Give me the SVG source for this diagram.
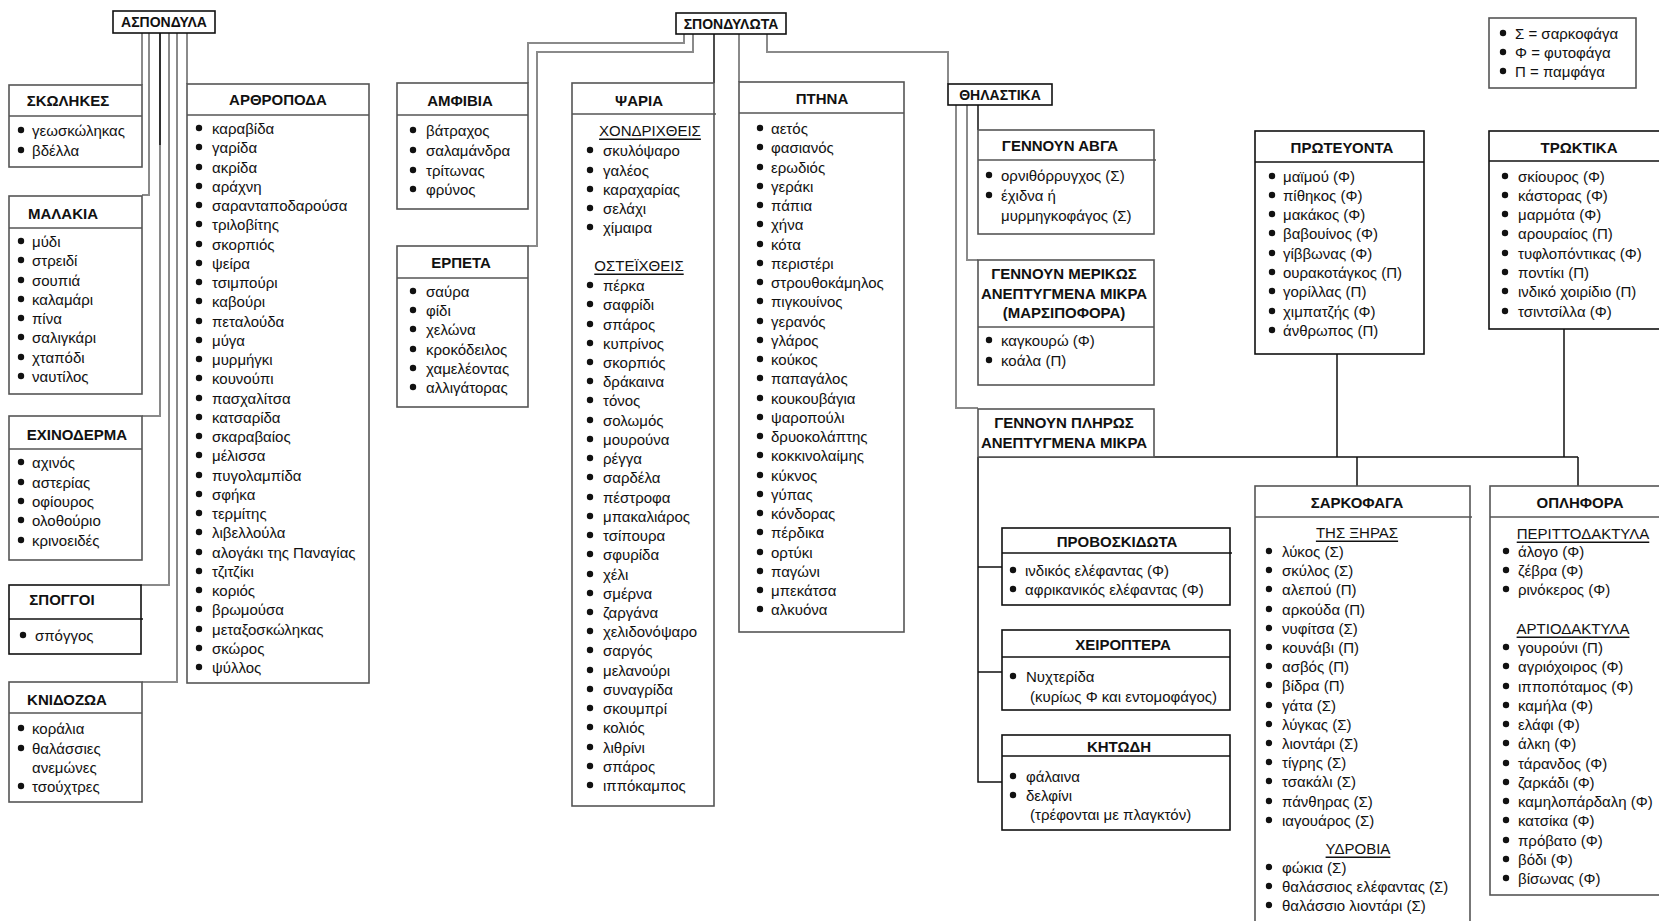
<svg xmlns="http://www.w3.org/2000/svg" xmlns:xlink="http://www.w3.org/1999/xlink" width="1659" height="921" viewBox="0 0 1659 921">
<style>
.box{fill:#fff;stroke:#555;stroke-width:1.6}
.kb{fill:#fff;stroke:#111;stroke-width:1.6}
.dv{stroke:#555;stroke-width:1.6}
.t{font-family:"Liberation Sans",Arial,sans-serif;font-size:15px;fill:#111;dominant-baseline:central}
.h{font-weight:bold;text-anchor:middle}
.s{font-size:14px}
.u{text-decoration:underline;text-anchor:middle}
.c{fill:none;stroke:#8a8a8a;stroke-width:2}
.k{fill:none;stroke:#111;stroke-width:1.5}
</style>
<defs><circle id="b" r="3.2" fill="#111"/></defs>
<rect width="1659" height="921" fill="#fff"/>

<g id="connectors">
<path class="c" d="M142,33V85 M149,33V195H142 M160,33V416H142 M169,33V585H141 M177,33V682H142 M187,33V84"/>
<path class="k" d="M160,33V145"/>
<path class="c" d="M684,34V43H528V83 M693,34V52H537V246H528 M739,34V82 M767,34V52H948V84"/>
<path class="k" d="M714,34V83"/>
<path class="c" d="M956,105V408H978 M967,105V260H978"/>
<path class="k" d="M978,105V130"/>
<path class="k" d="M978,457V782H1002 M978,567H1002 M978,672H1002 M978,457H1578 M1337,354V457 M1564,329V457 M1357,457V486 M1578,457V486"/>
</g>

<g id="aspondyla"><rect class="kb" x="113" y="11" width="102" height="22"/><text class="t h s" x="164" y="22">ΑΣΠΟΝΔΥΛΑ</text></g>

<g id="skolikes"><rect class="box" x="9" y="85" width="133" height="82"/><line class="dv" x1="9" y1="116" x2="142" y2="116"/>
<text class="t h" x="68" y="100">ΣΚΩΛΗΚΕΣ</text>
<use href="#b" x="21" y="130"/><use href="#b" x="21" y="150"/>
<text class="t"><tspan x="32" y="130">γεωσκώληκας</tspan><tspan x="32" y="150">βδέλλα</tspan></text></g>

<g id="malakia"><rect class="box" x="9" y="196" width="133" height="198"/><line class="dv" x1="9" y1="228" x2="142" y2="228"/>
<text class="t h" x="63" y="213">ΜΑΛΑΚΙΑ</text>
<use href="#b" x="21" y="241"/><use href="#b" x="21" y="260"/><use href="#b" x="21" y="280"/><use href="#b" x="21" y="299"/><use href="#b" x="21" y="318"/><use href="#b" x="21" y="337"/><use href="#b" x="21" y="357"/><use href="#b" x="21" y="376"/>
<text class="t"><tspan x="32" y="241">μύδι</tspan><tspan x="32" y="260">στρειδί</tspan><tspan x="32" y="280">σουπιά</tspan><tspan x="32" y="299">καλαμάρι</tspan><tspan x="32" y="318">πίνα</tspan><tspan x="32" y="337">σαλιγκάρι</tspan><tspan x="32" y="357">χταπόδι</tspan><tspan x="32" y="376">ναυτίλος</tspan></text></g>

<g id="echinoderma"><rect class="box" x="9" y="416" width="133" height="144"/><line class="dv" x1="9" y1="449" x2="142" y2="449"/>
<text class="t h" x="77" y="434">ΕΧΙΝΟΔΕΡΜΑ</text>
<use href="#b" x="21" y="462"/><use href="#b" x="21" y="482"/><use href="#b" x="21" y="501"/><use href="#b" x="21" y="520"/><use href="#b" x="21" y="540"/>
<text class="t"><tspan x="32" y="462">αχινός</tspan><tspan x="32" y="482">αστερίας</tspan><tspan x="32" y="501">οφίουρος</tspan><tspan x="32" y="520">ολοθούριο</tspan><tspan x="32" y="540">κρινοειδές</tspan></text></g>

<g id="spoggoi"><rect class="kb" x="9" y="585" width="132" height="69"/><line stroke="#111" stroke-width="1.6" x1="9" y1="619" x2="143" y2="619"/>
<text class="t h" x="62" y="599">ΣΠΟΓΓΟΙ</text>
<use href="#b" x="23" y="635"/>
<text class="t" x="35" y="635">σπόγγος</text></g>

<g id="knidozoa"><rect class="box" x="9" y="682" width="133" height="120"/><line class="dv" x1="9" y1="713" x2="142" y2="713"/>
<text class="t h" x="67" y="699">ΚΝΙΔΟΖΩΑ</text>
<use href="#b" x="21" y="728"/><use href="#b" x="21" y="748"/><use href="#b" x="21" y="786"/>
<text class="t"><tspan x="32" y="728">κοράλια</tspan><tspan x="32" y="748">θαλάσσιες</tspan><tspan x="32" y="767">ανεμώνες</tspan><tspan x="32" y="786">τσούχτρες</tspan></text></g>

<g id="arthropoda"><rect class="box" x="187" y="84" width="182" height="599"/><line class="dv" x1="187" y1="115" x2="369" y2="115"/>
<text class="t h" x="278" y="99">ΑΡΘΡΟΠΟΔΑ</text>
<g>
<use href="#b" x="199" y="128"/><use href="#b" x="199" y="147"/><use href="#b" x="199" y="167"/><use href="#b" x="199" y="186"/><use href="#b" x="199" y="205"/><use href="#b" x="199" y="224"/><use href="#b" x="199" y="244"/><use href="#b" x="199" y="263"/><use href="#b" x="199" y="282"/><use href="#b" x="199" y="301"/><use href="#b" x="199" y="321"/><use href="#b" x="199" y="340"/><use href="#b" x="199" y="359"/><use href="#b" x="199" y="378"/><use href="#b" x="199" y="398"/><use href="#b" x="199" y="417"/><use href="#b" x="199" y="436"/><use href="#b" x="199" y="455"/><use href="#b" x="199" y="475"/><use href="#b" x="199" y="494"/><use href="#b" x="199" y="513"/><use href="#b" x="199" y="532"/><use href="#b" x="199" y="552"/><use href="#b" x="199" y="571"/><use href="#b" x="199" y="590"/><use href="#b" x="199" y="609"/><use href="#b" x="199" y="629"/><use href="#b" x="199" y="648"/><use href="#b" x="199" y="667"/>
</g>
<text class="t"><tspan x="212" y="128">καραβίδα</tspan><tspan x="212" y="147">γαρίδα</tspan><tspan x="212" y="167">ακρίδα</tspan><tspan x="212" y="186">αράχνη</tspan><tspan x="212" y="205">σαρανταποδαρούσα</tspan><tspan x="212" y="224">τριλοβίτης</tspan><tspan x="212" y="244">σκορπιός</tspan><tspan x="212" y="263">ψείρα</tspan><tspan x="212" y="282">τσιμπούρι</tspan><tspan x="212" y="301">καβούρι</tspan><tspan x="212" y="321">πεταλούδα</tspan><tspan x="212" y="340">μύγα</tspan><tspan x="212" y="359">μυρμήγκι</tspan><tspan x="212" y="378">κουνούπι</tspan><tspan x="212" y="398">πασχαλίτσα</tspan><tspan x="212" y="417">κατσαρίδα</tspan><tspan x="212" y="436">σκαραβαίος</tspan><tspan x="212" y="455">μέλισσα</tspan><tspan x="212" y="475">πυγολαμπίδα</tspan><tspan x="212" y="494">σφήκα</tspan><tspan x="212" y="513">τερμίτης</tspan><tspan x="212" y="532">λιβελλούλα</tspan><tspan x="212" y="552">αλογάκι της Παναγίας</tspan><tspan x="212" y="571">τζιτζίκι</tspan><tspan x="212" y="590">κοριός</tspan><tspan x="212" y="609">βρωμούσα</tspan><tspan x="212" y="629">μεταξοσκώληκας</tspan><tspan x="212" y="648">σκώρος</tspan><tspan x="212" y="667">ψύλλος</tspan></text></g>

<g id="spondylota"><rect class="kb" x="676" y="13" width="110" height="21"/><text class="t h s" x="731" y="23.5">ΣΠΟΝΔΥΛΩΤΑ</text></g>

<g id="amfibia"><rect class="box" x="397" y="83" width="131" height="126"/><line class="dv" x1="397" y1="115" x2="528" y2="115"/>
<text class="t h" x="460" y="100">ΑΜΦΙΒΙΑ</text>
<use href="#b" x="413" y="130"/><use href="#b" x="413" y="150"/><use href="#b" x="413" y="170"/><use href="#b" x="413" y="189"/>
<text class="t"><tspan x="426" y="130">βάτραχος</tspan><tspan x="426" y="150">σαλαμάνδρα</tspan><tspan x="426" y="170">τρίτωνας</tspan><tspan x="426" y="189">φρύνος</tspan></text></g>

<g id="erpeta"><rect class="box" x="397" y="246" width="131" height="161"/><line class="dv" x1="397" y1="278" x2="528" y2="278"/>
<text class="t h" x="461" y="262">ΕΡΠΕΤΑ</text>
<use href="#b" x="413" y="291"/><use href="#b" x="413" y="310"/><use href="#b" x="413" y="329"/><use href="#b" x="413" y="349"/><use href="#b" x="413" y="368"/><use href="#b" x="413" y="387"/>
<text class="t"><tspan x="426" y="291">σαύρα</tspan><tspan x="426" y="310">φίδι</tspan><tspan x="426" y="329">χελώνα</tspan><tspan x="426" y="349">κροκόδειλος</tspan><tspan x="426" y="368">χαμελέοντας</tspan><tspan x="426" y="387">αλλιγάτορας</tspan></text></g>

<g id="psaria"><rect class="box" x="572" y="83" width="142" height="723"/><line class="dv" x1="572" y1="114" x2="716" y2="114"/>
<text class="t h" x="639" y="100">ΨΑΡΙΑ</text>
<text class="t u" x="650" y="130">ΧΟΝΔΡΙΧΘΕΙΣ</text>
<use href="#b" x="590" y="150"/><use href="#b" x="590" y="170"/><use href="#b" x="590" y="189"/><use href="#b" x="590" y="208"/><use href="#b" x="590" y="227"/>
<text class="t"><tspan x="603" y="150">σκυλόψαρο</tspan><tspan x="603" y="170">γαλέος</tspan><tspan x="603" y="189">καραχαρίας</tspan><tspan x="603" y="208">σελάχι</tspan><tspan x="603" y="227">χίμαιρα</tspan></text>
<text class="t u" x="639" y="265">ΟΣΤΕΪΧΘΕΙΣ</text>
<g>
<use href="#b" x="590" y="285"/><use href="#b" x="590" y="304"/><use href="#b" x="590" y="324"/><use href="#b" x="590" y="343"/><use href="#b" x="590" y="362"/><use href="#b" x="590" y="381"/><use href="#b" x="590" y="400"/><use href="#b" x="590" y="420"/><use href="#b" x="590" y="439"/><use href="#b" x="590" y="458"/><use href="#b" x="590" y="477"/><use href="#b" x="590" y="497"/><use href="#b" x="590" y="516"/><use href="#b" x="590" y="535"/><use href="#b" x="590" y="554"/><use href="#b" x="590" y="574"/><use href="#b" x="590" y="593"/><use href="#b" x="590" y="612"/><use href="#b" x="590" y="631"/><use href="#b" x="590" y="650"/><use href="#b" x="590" y="670"/><use href="#b" x="590" y="689"/><use href="#b" x="590" y="708"/><use href="#b" x="590" y="727"/><use href="#b" x="590" y="747"/><use href="#b" x="590" y="766"/><use href="#b" x="590" y="785"/>
</g>
<text class="t"><tspan x="603" y="285">πέρκα</tspan><tspan x="603" y="304">σαφρίδι</tspan><tspan x="603" y="324">σπάρος</tspan><tspan x="603" y="343">κυπρίνος</tspan><tspan x="603" y="362">σκορπιός</tspan><tspan x="603" y="381">δράκαινα</tspan><tspan x="603" y="400">τόνος</tspan><tspan x="603" y="420">σολωμός</tspan><tspan x="603" y="439">μουρούνα</tspan><tspan x="603" y="458">ρέγγα</tspan><tspan x="603" y="477">σαρδέλα</tspan><tspan x="603" y="497">πέστροφα</tspan><tspan x="603" y="516">μπακαλιάρος</tspan><tspan x="603" y="535">τσίπουρα</tspan><tspan x="603" y="554">σφυρίδα</tspan><tspan x="603" y="574">χέλι</tspan><tspan x="603" y="593">σμέρνα</tspan><tspan x="603" y="612">ζαργάνα</tspan><tspan x="603" y="631">χελιδονόψαρο</tspan><tspan x="603" y="650">σαργός</tspan><tspan x="603" y="670">μελανούρι</tspan><tspan x="603" y="689">συναγρίδα</tspan><tspan x="603" y="708">σκουμπρί</tspan><tspan x="603" y="727">κολιός</tspan><tspan x="603" y="747">λιθρίνι</tspan><tspan x="603" y="766">σπάρος</tspan><tspan x="603" y="785">ιππόκαμπος</tspan></text></g>

<g id="ptina"><rect class="box" x="739" y="82" width="165" height="550"/><line class="dv" x1="739" y1="113" x2="904" y2="113"/>
<text class="t h" x="822" y="98">ΠΤΗΝΑ</text>
<g>
<use href="#b" x="760" y="128"/><use href="#b" x="760" y="147"/><use href="#b" x="760" y="167"/><use href="#b" x="760" y="186"/><use href="#b" x="760" y="205"/><use href="#b" x="760" y="224"/><use href="#b" x="760" y="244"/><use href="#b" x="760" y="263"/><use href="#b" x="760" y="282"/><use href="#b" x="760" y="301"/><use href="#b" x="760" y="321"/><use href="#b" x="760" y="340"/><use href="#b" x="760" y="359"/><use href="#b" x="760" y="378"/><use href="#b" x="760" y="398"/><use href="#b" x="760" y="417"/><use href="#b" x="760" y="436"/><use href="#b" x="760" y="455"/><use href="#b" x="760" y="475"/><use href="#b" x="760" y="494"/><use href="#b" x="760" y="513"/><use href="#b" x="760" y="532"/><use href="#b" x="760" y="552"/><use href="#b" x="760" y="571"/><use href="#b" x="760" y="590"/><use href="#b" x="760" y="609"/>
</g>
<text class="t"><tspan x="771" y="128">αετός</tspan><tspan x="771" y="147">φασιανός</tspan><tspan x="771" y="167">ερωδιός</tspan><tspan x="771" y="186">γεράκι</tspan><tspan x="771" y="205">πάπια</tspan><tspan x="771" y="224">χήνα</tspan><tspan x="771" y="244">κότα</tspan><tspan x="771" y="263">περιστέρι</tspan><tspan x="771" y="282">στρουθοκάμηλος</tspan><tspan x="771" y="301">πιγκουίνος</tspan><tspan x="771" y="321">γερανός</tspan><tspan x="771" y="340">γλάρος</tspan><tspan x="771" y="359">κούκος</tspan><tspan x="771" y="378">παπαγάλος</tspan><tspan x="771" y="398">κουκουβάγια</tspan><tspan x="771" y="417">ψαροπούλι</tspan><tspan x="771" y="436">δρυοκολάπτης</tspan><tspan x="771" y="455">κοκκινολαίμης</tspan><tspan x="771" y="475">κύκνος</tspan><tspan x="771" y="494">γύπας</tspan><tspan x="771" y="513">κόνδορας</tspan><tspan x="771" y="532">πέρδικα</tspan><tspan x="771" y="552">ορτύκι</tspan><tspan x="771" y="571">παγώνι</tspan><tspan x="771" y="590">μπεκάτσα</tspan><tspan x="771" y="609">αλκυόνα</tspan></text></g>

<g id="thilastika"><rect class="kb" x="948" y="84" width="104" height="21"/><text class="t h s" x="1000" y="94.5">ΘΗΛΑΣΤΙΚΑ</text></g>

<g id="gennoun-avga"><rect class="box" x="978" y="130" width="176" height="104"/><line class="dv" x1="978" y1="160" x2="1156" y2="160"/>
<text class="t h" x="1060" y="145">ΓΕΝΝΟΥΝ ΑΒΓΑ</text>
<use href="#b" x="989" y="175"/><use href="#b" x="989" y="195"/>
<text class="t"><tspan x="1001" y="175">ορνιθόρρυγχος (Σ)</tspan><tspan x="1001" y="195">έχιδνα ή</tspan><tspan x="1001" y="215">μυρμηγκοφάγος (Σ)</tspan></text></g>

<g id="marsipofora"><rect class="box" x="978" y="260" width="176" height="125"/><line class="dv" x1="978" y1="327" x2="1154" y2="327"/>
<text class="t h"><tspan x="1064" y="273">ΓΕΝΝΟΥΝ ΜΕΡΙΚΩΣ</tspan><tspan x="1064" y="293">ΑΝΕΠΤΥΓΜΕΝΑ ΜΙΚΡΑ</tspan><tspan x="1064" y="312">(ΜΑΡΣΙΠΟΦΟΡΑ)</tspan></text>
<use href="#b" x="989" y="340"/><use href="#b" x="989" y="360"/>
<text class="t"><tspan x="1001" y="340">καγκουρώ (Φ)</tspan><tspan x="1001" y="360">κοάλα (Π)</tspan></text></g>

<g id="plakountofora"><rect class="box" x="978" y="409" width="176" height="48"/>
<text class="t h"><tspan x="1064" y="422">ΓΕΝΝΟΥΝ ΠΛΗΡΩΣ</tspan><tspan x="1064" y="442">ΑΝΕΠΤΥΓΜΕΝΑ ΜΙΚΡΑ</tspan></text></g>

<g id="proboskidota"><rect class="kb" x="1002" y="528" width="228" height="77"/><line stroke="#111" stroke-width="1.6" x1="1002" y1="553" x2="1232" y2="553"/>
<text class="t h" x="1117" y="541">ΠΡΟΒΟΣΚΙΔΩΤΑ</text>
<use href="#b" x="1013" y="570"/><use href="#b" x="1013" y="589"/>
<text class="t"><tspan x="1025" y="570">ινδικός ελέφαντας (Φ)</tspan><tspan x="1025" y="589">αφρικανικός ελέφαντας (Φ)</tspan></text></g>

<g id="cheiroptera"><rect class="kb" x="1002" y="630" width="228" height="80"/><line stroke="#111" stroke-width="1.6" x1="1002" y1="657" x2="1230" y2="657"/>
<text class="t h" x="1123" y="644">ΧΕΙΡΟΠΤΕΡΑ</text>
<use href="#b" x="1013" y="676"/>
<text class="t"><tspan x="1026" y="676">Νυχτερίδα</tspan><tspan x="1030" y="696">(κυρίως Φ και εντομοφάγος)</tspan></text></g>

<g id="kitodi"><rect class="kb" x="1002" y="735" width="228" height="95"/><line stroke="#111" stroke-width="1.6" x1="1002" y1="756" x2="1230" y2="756"/>
<text class="t h" x="1119" y="746">ΚΗΤΩΔΗ</text>
<use href="#b" x="1013" y="776"/><use href="#b" x="1013" y="795"/>
<text class="t"><tspan x="1026" y="776">φάλαινα</tspan><tspan x="1026" y="795">δελφίνι</tspan><tspan x="1030" y="814">(τρέφονται με πλαγκτόν)</tspan></text></g>

<g id="legend"><rect class="box" x="1489" y="18" width="147" height="70"/>
<use href="#b" x="1503" y="33"/><use href="#b" x="1503" y="52"/><use href="#b" x="1503" y="71"/>
<text class="t"><tspan x="1515" y="33">Σ = σαρκοφάγα</tspan><tspan x="1515" y="52">Φ = φυτοφάγα</tspan><tspan x="1515" y="71">Π = παμφάγα</tspan></text></g>

<g id="proteuonta"><rect class="kb" x="1255" y="131" width="169" height="223"/><line stroke="#111" stroke-width="1.6" x1="1255" y1="162" x2="1424" y2="162"/>
<text class="t h" x="1342" y="147">ΠΡΩΤΕΥΟΝΤΑ</text>
<use href="#b" x="1272" y="176"/><use href="#b" x="1272" y="195"/><use href="#b" x="1272" y="214"/><use href="#b" x="1272" y="233"/><use href="#b" x="1272" y="253"/><use href="#b" x="1272" y="272"/><use href="#b" x="1272" y="291"/><use href="#b" x="1272" y="311"/><use href="#b" x="1272" y="330"/>
<text class="t"><tspan x="1283" y="176">μαϊμού (Φ)</tspan><tspan x="1283" y="195">πίθηκος (Φ)</tspan><tspan x="1283" y="214">μακάκος (Φ)</tspan><tspan x="1283" y="233">βαβουίνος (Φ)</tspan><tspan x="1283" y="253">γίββωνας (Φ)</tspan><tspan x="1283" y="272">ουρακοτάγκος (Π)</tspan><tspan x="1283" y="291">γορίλλας (Π)</tspan><tspan x="1283" y="311">χιμπατζής (Φ)</tspan><tspan x="1283" y="330">άνθρωπος (Π)</tspan></text></g>

<g id="troktika"><rect class="kb" x="1489" y="131" width="180" height="198"/><line stroke="#111" stroke-width="1.6" x1="1489" y1="161" x2="1669" y2="161"/>
<text class="t h" x="1579" y="147">ΤΡΩΚΤΙΚΑ</text>
<use href="#b" x="1505" y="176"/><use href="#b" x="1505" y="195"/><use href="#b" x="1505" y="214"/><use href="#b" x="1505" y="233"/><use href="#b" x="1505" y="253"/><use href="#b" x="1505" y="272"/><use href="#b" x="1505" y="291"/><use href="#b" x="1505" y="311"/>
<text class="t"><tspan x="1518" y="176">σκίουρος (Φ)</tspan><tspan x="1518" y="195">κάστορας (Φ)</tspan><tspan x="1518" y="214">μαρμότα (Φ)</tspan><tspan x="1518" y="233">αρουραίος (Π)</tspan><tspan x="1518" y="253">τυφλοπόντικας (Φ)</tspan><tspan x="1518" y="272">ποντίκι (Π)</tspan><tspan x="1518" y="291">ινδικό χοιρίδιο (Π)</tspan><tspan x="1518" y="311">τσιντσίλλα (Φ)</tspan></text></g>

<g id="sarkofaga"><rect class="box" x="1255" y="486" width="215" height="460"/><line class="dv" x1="1255" y1="517" x2="1472" y2="517"/>
<text class="t h" x="1357" y="502">ΣΑΡΚΟΦΑΓΑ</text>
<text class="t u" x="1357" y="532">ΤΗΣ ΞΗΡΑΣ</text>
<use href="#b" x="1269" y="551"/><use href="#b" x="1269" y="570"/><use href="#b" x="1269" y="589"/><use href="#b" x="1269" y="609"/><use href="#b" x="1269" y="628"/><use href="#b" x="1269" y="647"/><use href="#b" x="1269" y="666"/><use href="#b" x="1269" y="685"/><use href="#b" x="1269" y="705"/><use href="#b" x="1269" y="724"/><use href="#b" x="1269" y="743"/><use href="#b" x="1269" y="762"/><use href="#b" x="1269" y="781"/><use href="#b" x="1269" y="801"/><use href="#b" x="1269" y="820"/>
<text class="t"><tspan x="1282" y="551">λύκος (Σ)</tspan><tspan x="1282" y="570">σκύλος (Σ)</tspan><tspan x="1282" y="589">αλεπού (Π)</tspan><tspan x="1282" y="609">αρκούδα (Π)</tspan><tspan x="1282" y="628">νυφίτσα (Σ)</tspan><tspan x="1282" y="647">κουνάβι (Π)</tspan><tspan x="1282" y="666">ασβός (Π)</tspan><tspan x="1282" y="685">βίδρα (Π)</tspan><tspan x="1282" y="705">γάτα (Σ)</tspan><tspan x="1282" y="724">λύγκας (Σ)</tspan><tspan x="1282" y="743">λιοντάρι (Σ)</tspan><tspan x="1282" y="762">τίγρης (Σ)</tspan><tspan x="1282" y="781">τσακάλι (Σ)</tspan><tspan x="1282" y="801">πάνθηρας (Σ)</tspan><tspan x="1282" y="820">ιαγουάρος (Σ)</tspan></text>
<text class="t u" x="1358" y="848">ΥΔΡΟΒΙΑ</text>
<use href="#b" x="1269" y="867"/><use href="#b" x="1269" y="886"/><use href="#b" x="1269" y="905"/>
<text class="t"><tspan x="1282" y="867">φώκια (Σ)</tspan><tspan x="1282" y="886">θαλάσσιος ελέφαντας (Σ)</tspan><tspan x="1282" y="905">θαλάσσιο λιοντάρι (Σ)</tspan></text></g>

<g id="oplifora"><rect class="box" x="1490" y="486" width="180" height="409"/><line class="dv" x1="1490" y1="517" x2="1670" y2="517"/>
<text class="t h" x="1580" y="502">ΟΠΛΗΦΟΡΑ</text>
<text class="t u" x="1583" y="533">ΠΕΡΙΤΤΟΔΑΚΤΥΛΑ</text>
<use href="#b" x="1506" y="551"/><use href="#b" x="1506" y="570"/><use href="#b" x="1506" y="589"/>
<text class="t"><tspan x="1518" y="551">άλογο (Φ)</tspan><tspan x="1518" y="570">ζέβρα (Φ)</tspan><tspan x="1518" y="589">ρινόκερος (Φ)</tspan></text>
<text class="t u" x="1573" y="628">ΑΡΤΙΟΔΑΚΤΥΛΑ</text>
<use href="#b" x="1506" y="647"/><use href="#b" x="1506" y="666"/><use href="#b" x="1506" y="686"/><use href="#b" x="1506" y="705"/><use href="#b" x="1506" y="724"/><use href="#b" x="1506" y="743"/><use href="#b" x="1506" y="763"/><use href="#b" x="1506" y="782"/><use href="#b" x="1506" y="801"/><use href="#b" x="1506" y="820"/><use href="#b" x="1506" y="840"/><use href="#b" x="1506" y="859"/><use href="#b" x="1506" y="878"/>
<text class="t"><tspan x="1518" y="647">γουρούνι (Π)</tspan><tspan x="1518" y="666">αγριόχοιρος (Φ)</tspan><tspan x="1518" y="686">ιπποπόταμος (Φ)</tspan><tspan x="1518" y="705">καμήλα (Φ)</tspan><tspan x="1518" y="724">ελάφι (Φ)</tspan><tspan x="1518" y="743">άλκη (Φ)</tspan><tspan x="1518" y="763">τάρανδος (Φ)</tspan><tspan x="1518" y="782">ζαρκάδι (Φ)</tspan><tspan x="1518" y="801">καμηλοπάρδαλη (Φ)</tspan><tspan x="1518" y="820">κατσίκα (Φ)</tspan><tspan x="1518" y="840">πρόβατο (Φ)</tspan><tspan x="1518" y="859">βόδι (Φ)</tspan><tspan x="1518" y="878">βίσωνας (Φ)</tspan></text></g>
</svg>
